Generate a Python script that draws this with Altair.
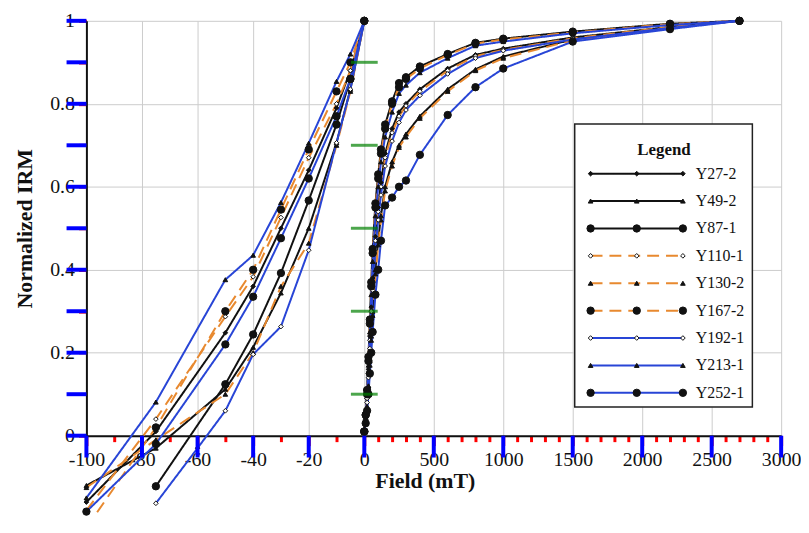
import altair as alt
import pandas as pd

# ---------------- data ----------------
series = ["Y27-2", "Y49-2", "Y87-1", "Y110-1", "Y130-2", "Y167-2", "Y192-1", "Y213-1", "Y252-1"]
line_colors = ["#111111", "#111111", "#111111", "#E8892F", "#E8892F", "#E8892F", "#2845D6", "#2845D6", "#2845D6"]
dashes = [[1, 0], [1, 0], [1, 0], [12, 7], [12, 7], [12, 7], [1, 0], [1, 0], [1, 0]]
shapes = ["diamond", "triangle-up", "circle"] * 3
fills = ["#111111", "#111111", "#111111", "#ffffff", "#111111", "#111111", "#ffffff", "#111111", "#111111"]
big_series = ["Y87-1", "Y167-2", "Y252-1"]

bf_fields = [0, -5, -10, -20, -30, -40, -50, -60, -75, -100]
bf = {
    "Y27-2":  [1.0, 0.88, 0.79, 0.64, 0.50, 0.36, 0.248, None, 0.01, -0.16],
    "Y49-2":  [1.0, 0.835, 0.706, 0.50, 0.344, 0.213, 0.112, None, -0.03, -0.12],
    "Y87-1":  [1.0, 0.86, 0.75, 0.567, 0.392, 0.244, 0.124, None, -0.122, None],
    "Y110-1": [1.0, 0.88, 0.80, 0.67, 0.526, 0.383, 0.287, None, 0.04, -0.18],
    "Y130-2": [1.0, 0.83, 0.70, 0.464, 0.36, 0.20, 0.10, None, -0.01, -0.125],
    "Y167-2": [1.0, 0.90, 0.83, 0.69, 0.545, 0.40, 0.30, None, 0.02, -0.222],
    "Y192-1": [1.0, 0.835, 0.706, 0.447, 0.263, 0.196, 0.06, -0.03, -0.163, None],
    "Y213-1": [1.0, 0.92, 0.854, 0.705, 0.562, 0.435, 0.376, None, 0.081, -0.15],
    "Y252-1": [1.0, 0.86, 0.77, 0.62, 0.476, 0.335, 0.22, None, -0.02, -0.183],
}

af_fields = [0, 10, 20, 30, 40, 50, 60, 80, 100, 120, 150, 200, 250, 300, 400, 600, 800, 1000, 1500, 2200, 2700]
af = {
    "Y27-2":  [0.01, 0.04, 0.09, 0.16, 0.24, 0.31, 0.38, 0.48, 0.55, 0.61, 0.68, 0.74, 0.78, 0.80, 0.835, 0.885, 0.918, 0.933, 0.96, 0.985, 1.0],
    "Y49-2":  [0.01, 0.03, 0.07, 0.12, 0.18, 0.24, 0.30, 0.40, 0.47, 0.53, 0.60, 0.66, 0.70, 0.727, 0.77, 0.835, 0.883, 0.914, 0.955, 0.985, 1.0],
    "Y87-1":  [0.01, 0.05, 0.11, 0.19, 0.28, 0.37, 0.45, 0.56, 0.63, 0.69, 0.75, 0.806, 0.85, 0.864, 0.89, 0.92, 0.947, 0.957, 0.974, 0.993, 1.0],
    "Y110-1": [0.01, 0.04, 0.09, 0.15, 0.23, 0.30, 0.37, 0.47, 0.54, 0.60, 0.67, 0.73, 0.77, 0.795, 0.83, 0.88, 0.915, 0.93, 0.958, 0.985, 1.0],
    "Y130-2": [0.01, 0.03, 0.07, 0.12, 0.17, 0.23, 0.29, 0.39, 0.46, 0.52, 0.59, 0.65, 0.695, 0.72, 0.765, 0.83, 0.88, 0.91, 0.953, 0.984, 1.0],
    "Y167-2": [0.01, 0.05, 0.10, 0.18, 0.27, 0.36, 0.44, 0.55, 0.62, 0.68, 0.74, 0.80, 0.84, 0.86, 0.885, 0.918, 0.945, 0.955, 0.972, 0.992, 1.0],
    "Y192-1": [0.01, 0.04, 0.08, 0.14, 0.21, 0.28, 0.35, 0.45, 0.52, 0.58, 0.65, 0.71, 0.755, 0.785, 0.82, 0.872, 0.91, 0.928, 0.955, 0.983, 1.0],
    "Y213-1": [0.01, 0.04, 0.10, 0.17, 0.25, 0.34, 0.42, 0.53, 0.60, 0.66, 0.72, 0.78, 0.825, 0.845, 0.875, 0.91, 0.94, 0.95, 0.97, 0.99, 1.0],
    "Y252-1": [0.01, 0.03, 0.06, 0.10, 0.15, 0.20, 0.25, 0.34, 0.40, 0.47, 0.555, 0.574, 0.60, 0.615, 0.677, 0.773, 0.84, 0.885, 0.95, 0.98, 1.0],
}

x_major = [-100, -80, -60, -40, -20, 0, 500, 1000, 1500, 2000, 2500, 3000]
x_minor = [-90, -70, -50, -30, -10, 100, 200, 300, 400, 600, 700, 800, 900, 1100, 1200, 1300, 1400,
           1600, 1700, 1800, 1900, 2100, 2200, 2300, 2400, 2600, 2700, 2800, 2900]
y_ticks = [0, 0.1, 0.2, 0.3, 0.4, 0.5, 0.6, 0.7, 0.8, 0.9, 1.0]
mid_stubs = [0.1, 0.3, 0.5, 0.7, 0.9]

rows = []
for s in series:
    for f, v in zip(bf_fields, bf[s]):
        if v is not None:
            rows.append({"series": s, "field": f, "irm": v, "seg": s + "-bf", "kind": "data"})
    for f, v in zip(af_fields, af[s]):
        rows.append({"series": s, "field": f, "irm": v, "seg": s + "-af", "kind": "data"})
df = pd.DataFrame(rows)
df["big"] = df["series"].isin(big_series)

leg_rows = []
for i, s in enumerate(series):
    for p in [0, 1, 2]:
        leg_rows.append({"series": s, "pos": p, "row": i, "big": s in big_series})
leg_df = pd.DataFrame(leg_rows)

FONT = "Liberation Serif"
major_test = "indexof([" + ",".join(str(v) for v in x_major) + "], datum.value) >= 0"
y_major_test = "round(datum.value * 10) % 2 == 0"

xscale = alt.Scale(domain=[-100, 0, 3000], range=[0, 280, 700], nice=False, zero=False)
yscale = alt.Scale(domain=[0, 1], nice=False, zero=False)

xaxis = alt.Axis(
    values=x_major + x_minor, tickCount=500, ticks=True,
    tickColor="red", tickWidth=3,
    tickSize={"condition": {"test": major_test, "value": 10}, "value": 6},
    labelPadding=4,
    labelExpr=f"{major_test} ? toString(datum.value) : ''",
    gridOpacity={"condition": {"test": major_test, "value": 1}, "value": 0},
    title="Field (mT)", titleX=341, titleY=35, titleBaseline="top",
    labelFlush=False, labelOverlap=False,
)
yaxis = alt.Axis(
    values=y_ticks, tickCount=500, ticks=True,
    tickColor="red", tickWidth=3, tickSize=8,
    labelPadding=4,
    labelExpr=f"{y_major_test} ? format(datum.value, '~g') : ''",
    gridOpacity={"condition": {"test": y_major_test, "value": 1}, "value": 0},
    title="Normalized IRM", titleX=-62, titleY=209, titleBaseline="middle", titleAngle=-90,
    labelFlush=False, labelOverlap=False,
)

color = alt.Color("series:N", scale=alt.Scale(domain=series, range=line_colors), legend=None)
dash = alt.StrokeDash("series:N", scale=alt.Scale(domain=series, range=dashes), legend=None)
shape = alt.Shape("series:N", scale=alt.Scale(domain=series, range=shapes), legend=None)
fill = alt.Fill("series:N", scale=alt.Scale(domain=series, range=fills), legend=None)

base = alt.Chart(df)
X = alt.X("field:Q", scale=xscale, axis=xaxis)
Y = alt.Y("irm:Q", scale=yscale, axis=yaxis)

lines = base.mark_line(strokeWidth=2).encode(x=X, y=Y, color=color, strokeDash=dash, detail="seg:N")
pts_small = base.transform_filter("!datum.big").mark_point(filled=True, size=22, strokeWidth=1, opacity=1).encode(
    x=X, y=Y, shape=shape, fill=fill, stroke=alt.value("#111111"))
pts_big = base.transform_filter("datum.big").mark_point(filled=True, size=55, strokeWidth=1, opacity=1).encode(
    x=X, y=Y, shape=shape, fill=fill, stroke=alt.value("#111111"))
stubs = alt.Chart(pd.DataFrame({"field": [0] * len(mid_stubs), "irm": mid_stubs})).mark_tick(
    orient="horizontal", size=27, thickness=3, color="green").encode(x=X, y=Y)

xt_major = alt.Chart(pd.DataFrame({"field": x_major})).mark_rule(color="blue", strokeWidth=4).encode(
    x=X, y=alt.value(418), y2=alt.value(440))
yt = alt.Chart(pd.DataFrame({"irm": y_ticks})).mark_rule(color="blue", strokeWidth=4).encode(
    y=Y, x=alt.value(-20), x2=alt.value(0))

lbase = alt.Chart(leg_df).transform_calculate(px="508 + datum.pos * 46.5", py="154 + datum.row * 27.6")
LX = alt.X("px:Q", scale=None, axis=None)
LY = alt.Y("py:Q", scale=None, axis=None)
one = pd.DataFrame({"a": [0]})
box = alt.Chart(one).mark_rect(fill="white", stroke="#222222", strokeWidth=1.5).encode(
    x=alt.value(492), x2=alt.value(671), y=alt.value(104), y2=alt.value(389))
ltitle = alt.Chart(one).mark_text(text="Legend", font=FONT, fontSize=17, fontWeight="bold",
                                  baseline="middle", align="center", color="#111111").encode(
    x=alt.value(582), y=alt.value(130))
llines = lbase.mark_line(strokeWidth=2).encode(x=LX, y=LY, color=color, strokeDash=dash, detail="series:N")
lpts_small = lbase.transform_filter("!datum.big").mark_point(filled=True, size=22, strokeWidth=1, opacity=1).encode(
    x=LX, y=LY, shape=shape, fill=fill, stroke=alt.value("#111111"))
lpts_big = lbase.transform_filter("datum.big").mark_point(filled=True, size=55, strokeWidth=1, opacity=1).encode(
    x=LX, y=LY, shape=shape, fill=fill, stroke=alt.value("#111111"))
ltext = lbase.transform_filter("datum.pos == 2").mark_text(
    align="left", baseline="middle", dx=13, font=FONT, fontSize=16, color="#111111").encode(
    x=LX, y=LY, text="series:N")

chart = alt.layer(
    lines, pts_small, pts_big, stubs, xt_major, yt,
    box, ltitle, llines, lpts_small, lpts_big, ltext,
).properties(
    width=700, height=418,
    padding={"left": 79, "top": 11, "right": 20, "bottom": 80},
    autosize=alt.AutoSizeParams(type="none"),
).configure_view(stroke=None).configure_axis(
    labelFont=FONT, titleFont=FONT, labelFontSize=20, titleFontSize=22, titleFontWeight="bold",
    labelColor="#111111", titleColor="#111111",
    domainColor="#111111", domainWidth=2,
    gridColor="#cccccc", gridWidth=1,
)

chart.save("out.html", embed_options={"renderer": "svg", "actions": False})
